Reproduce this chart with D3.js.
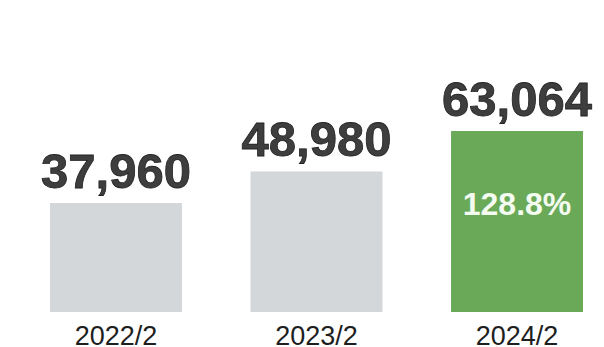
<!DOCTYPE html>
<html>
<head>
<meta charset="utf-8">
<script src="https://cdn.jsdelivr.net/npm/d3@7/dist/d3.min.js"></script>
<style>
  body { margin: 0; background: #fff; }
  text { font-family: "Liberation Sans", Arial, sans-serif; }
</style>
</head>
<body>
<div id="chart"></div>
<script>
//chart data
const categories = ['2022/2', '2023/2', '2024/2'];
const values = [37960, 48980, 63064];
const growth = [null, null, '128.8%'];

const width = 604, height = 347;

let svg = d3.select('#chart')
    .append('svg')
    .attr('width', width)
    .attr('height', height);

//band scale for the bars
let x = d3.scaleBand()
    .domain(categories)
    .range([50, 583])
    .paddingInner(0.342)
    .paddingOuter(0);

//linear scale, baseline at the bottom of the bars
let y = d3.scaleLinear()
    .domain([0, 63064])
    .range([312, 131]);

let fmt = d3.format(',');

//bars, last one highlighted
svg.append('g')
    .selectAll('rect')
    .data(values)
    .enter().append('rect')
    .attr('x', function(d, i) { return x(categories[i]); })
    .attr('y', function(d) { return y(d); })
    .attr('width', x.bandwidth())
    .attr('height', function(d) { return y(0) - y(d); })
    .attr('fill', function(d, i) { return i === 2 ? '#6aa957' : '#d4d7da'; });

//value labels above bars
svg.append('g')
    .selectAll('text')
    .data(values)
    .enter().append('text')
    .attr('x', function(d, i) { return x(categories[i]) + x.bandwidth() / 2; })
    .attr('y', function(d) { return y(d) - 15; })
    .attr('text-anchor', 'middle')
    .style('font-size', '49px')
    .style('font-weight', 'bold')
    .attr('fill', '#3e3e3e')
    .attr('stroke', '#222')
    .attr('stroke-width', 0.8)
    .text(function(d) { return fmt(d); });

//growth label inside the green bar
svg.append('g')
    .selectAll('text')
    .data(growth.filter(function(g) { return g; }))
    .enter().append('text')
    .attr('x', x(categories[2]) + x.bandwidth() / 2)
    .attr('y', 215)
    .attr('text-anchor', 'middle')
    .style('font-size', '32px')
    .style('font-weight', 'bold')
    .attr('fill', '#f4fbf0')
    .text(function(d) { return d; });

//category axis labels
let xAxis = svg.append('g')
    .attr('transform', 'translate(0, 312)')
    .call(d3.axisBottom(x).tickSize(0).tickPadding(14));
xAxis.select('.domain').remove();
xAxis.selectAll('text')
    .style('font-size', '27px')
    .style('font-family', '"Liberation Sans", Arial, sans-serif')
    .attr('fill', '#1e1e1e');
</script>
</body>
</html>
